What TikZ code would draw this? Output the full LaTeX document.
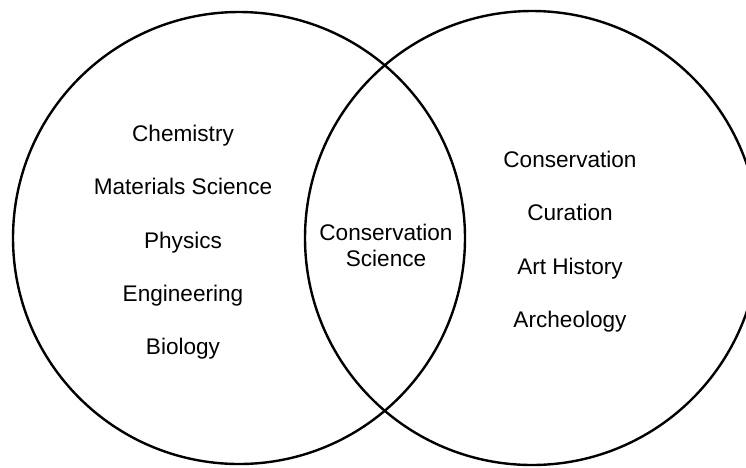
\documentclass[tikz,border=0pt]{standalone}
\usepackage{fontspec}
\setmainfont{Liberation Sans}
\begin{document}
\begin{tikzpicture}[x=1pt,y=-1pt,
  ring/.style={draw=black,line width=2.4pt},
  term/.style={anchor=base,inner sep=0pt,font=\fontsize{22.6}{26}\selectfont,align=center}]
\useasboundingbox (0,0) rectangle (746,467);
% the two overlapping fields
\draw[ring] (239,238) circle[radius=226];
\draw[ring] (532,238) circle[radius=227];
% left field
\node[term] (chem) at (183,141) {Chemistry};
\node[term] (mat)  at (183,194) {Materials Science};
\node[term] (phys) at (183,248) {Physics};
\node[term] (eng)  at (183,301) {Engineering};
\node[term] (bio)  at (183,354) {Biology};
% overlap (base anchor sits on the last line)
\node[term] (cs) at (386,266) {Conservation\\Science};
% right field
\node[term] (cons) at (570,167) {Conservation};
\node[term] (cur)  at (570,220) {Curation};
\node[term] (art)  at (570,274) {Art History};
\node[term] (arch) at (570,327) {Archeology};
\end{tikzpicture}
\end{document}
